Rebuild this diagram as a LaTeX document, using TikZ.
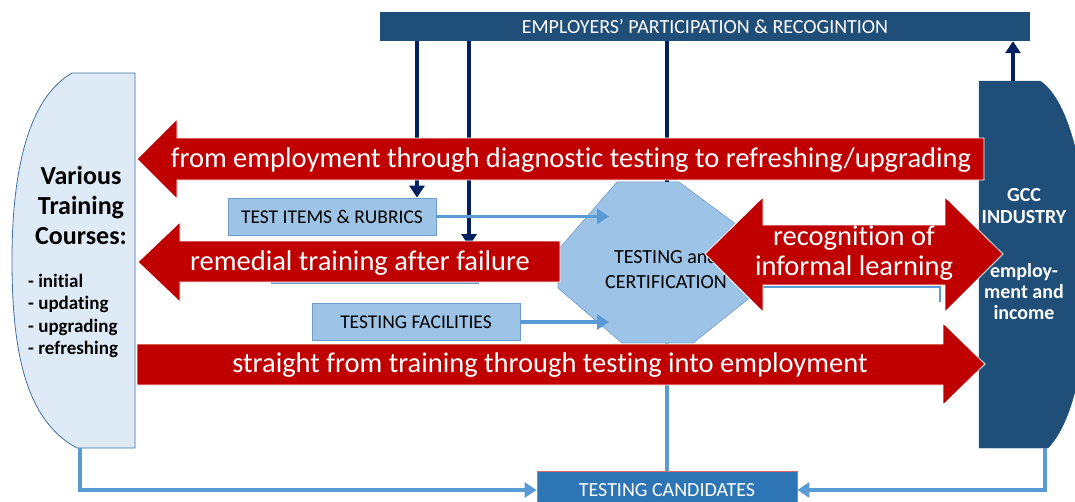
\documentclass[tikz,border=0pt]{standalone}
\usepackage{fontspec}
\setmainfont{Carlito}[Ligatures={TeX,NoCommon}]
\usetikzlibrary{arrows.meta}

\definecolor{barblue}{HTML}{1F4E79}
\definecolor{navy}{HTML}{002060}
\definecolor{arrowred}{HTML}{C00000}
\definecolor{boxblue}{HTML}{9DC3E6}
\definecolor{boxedge}{HTML}{6E9DCB}
\definecolor{paleblue}{HTML}{DEEBF7}
\definecolor{paleedge}{HTML}{41719C}
\definecolor{linkblue}{HTML}{5B9BD5}
\definecolor{candblue}{HTML}{2E75B6}
\definecolor{candedge}{HTML}{E06666}

\newcommand{\pts}[2]{\fontsize{#1}{#2}\selectfont}

\begin{document}
\begin{tikzpicture}[x=1pt,y=-1pt,
    itembox/.style={draw=boxedge,fill=boxblue,line width=0.8pt,inner sep=0pt,
      minimum height=37,font=\pts{19.5}{22}},
    redarrow/.style={fill=arrowred,draw=white,line width=0.8pt},
    redtext/.style={text=white,font=\pts{28.5}{30},inner sep=0pt,align=center},
    navyline/.style={draw=navy,line width=3.5pt},
    navytip/.style={-{Triangle[width=15pt,length=12pt]}},
    linkline/.style={draw=linkblue,line width=3.5pt},
    linktip/.style={-{Triangle[width=15pt,length=12pt]}}]
  \useasboundingbox (0,0) rectangle (1075,501);
  \clip (0,0) rectangle (1075,501);

  % employers bar along the top
  \node[fill=barblue,minimum width=650,minimum height=29,inner sep=0pt,
    text=white,font=\pts{20}{22}] (employers) at (705,26.5)
    {EMPLOYERS’ PARTICIPATION \& RECOGINTION};

  % training courses (left) and industry (right)
  \draw[fill=paleblue,draw=paleedge,line width=0.8pt] (135,73) -- (72,73)
    .. controls (25,100) and (12,180) .. (12,260)
    .. controls (12,350) and (25,420) .. (77,448) -- (135,448) -- cycle;
  \draw[fill=barblue,draw=barblue] (979,81) -- (1040,81)
    .. controls (1070,100) and (1088,180) .. (1088,265)
    .. controls (1088,350) and (1075,420) .. (1048,448) -- (979,448) -- cycle;
  \coordinate (courses-foot) at (80,448);
  \coordinate (industry-foot) at (1045,448);
  \coordinate (industry-top) at (1013,81);

  \node[font=\bfseries\pts{26}{30},align=center,inner sep=0pt] (courses) at (81,205)
    {Various\\Training\\Courses:};
  \node[font=\bfseries\pts{19}{22.3},align=left,inner sep=0pt,anchor=north west]
    (kinds) at (28,274) {- initial\\- updating\\- upgrading\\- refreshing};
  \node[font=\bfseries\pts{20}{22},align=center,inner sep=0pt,text=white]
    (industry) at (1024,206) {GCC\\INDUSTRY};
  \node[font=\bfseries\pts{20}{21},align=center,inner sep=0pt,text=white]
    (income) at (1024,292) {employ-\\ment and\\income};

  % input boxes
  \node[itembox,minimum width=208] (items) at (332,216.5) {TEST ITEMS \& RUBRICS};
  \node[itembox,minimum width=207] (retest) at (374.5,265) {};
  \node[itembox,minimum width=208] (facilities) at (416,322) {TESTING FACILITIES};

  % testing and certification
  \draw[fill=boxblue,draw=boxedge,line width=0.6pt] (617,182) -- (679,182)
    -- (752,236) -- (752,296) -- (693,343) -- (622,343) -- (558,288)
    -- (558,250) -- cycle;
  \node[font=\pts{20}{25},align=center,inner sep=0pt] (cert) at (666,269)
    {TESTING and\\CERTIFICATION};
  \coordinate (cert-top) at (667,182);
  \coordinate (cert-foot) at (667,343);
  \coordinate (cert-in1) at (609,216.5);
  \coordinate (cert-in2) at (609,322);
  \coordinate (cert-out) at (752,287);
  \coordinate (cert-bend) at (940,302);

  % testing candidates
  \node[fill=candblue,draw=candedge,line width=0.8pt,minimum width=260,
    minimum height=38,inner sep=0pt,text=white,font=\pts{20}{22}]
    (candidates) at (667,490) {TESTING CANDIDATES};

  % employer links
  \draw[navyline,navytip] (employers.south -| 417,0) -- (items.north -| 417,0);
  \draw[navyline,navytip] (employers.south -| 469,0) -- (retest.north -| 469,0);
  \draw[navyline] (employers.south -| cert-top) -- (cert-top);
  \draw[navyline,navytip] (industry-top) -- (employers.south -| industry-top);

  % flows into testing and candidates
  \draw[linkline,linktip] (items.east) -- (cert-in1);
  \draw[linkline,linktip] (facilities.east) -- (cert-in2);
  \draw[linkline] (cert-foot) -- (candidates.north -| cert-foot);
  \draw[linkline,linktip] (courses-foot) |- (candidates.west);
  \draw[linkline,linktip] (industry-foot) |- (candidates.east);
  \draw[draw=linkblue,line width=2pt] (cert-out) -| (cert-bend);

  % red arrows
  \draw[redarrow] (137,159) -- (177,119) -- (177,138) -- (984,138) -- (984,180)
    -- (177,180) -- (177,199) -- cycle;
  \draw[redarrow] (138,262) -- (180,222) -- (180,241) -- (560,241) -- (560,282)
    -- (180,282) -- (180,302) -- cycle;
  \draw[redarrow] (137,344) -- (943,344) -- (943,323) -- (985,364) -- (943,405)
    -- (943,385) -- (137,385) -- cycle;
  \draw[redarrow] (705,254) -- (763,197) -- (763,225) -- (945,225) -- (945,197)
    -- (1003,254) -- (945,312) -- (945,285) -- (763,285) -- (763,312) -- cycle;

  \node[redtext] (refresh) at (571,160)
    {from employment through diagnostic testing to refreshing/upgrading};
  \node[redtext] (remedial) at (360,263) {remedial training after failure};
  \node[redtext] (straight) at (550,365)
    {straight from training through testing into employment};
  \node[redtext] (informal) at (854,253) {recognition of\\informal learning};
\end{tikzpicture}
\end{document}
